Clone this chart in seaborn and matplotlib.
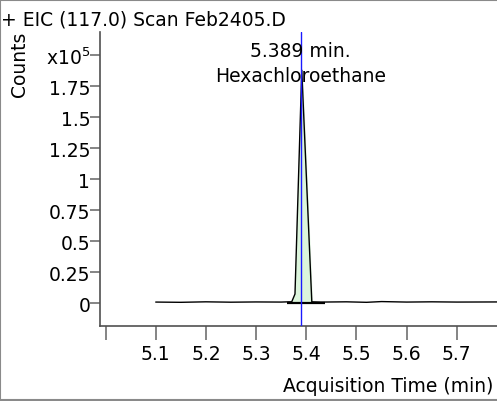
import numpy as np
import pandas as pd
import matplotlib
matplotlib.use("Agg")
import matplotlib.pyplot as plt
from matplotlib.lines import Line2D
import seaborn as sns

# ── data (counts in units of 1e5) ─────────────────────────────────────────────
time_min = [5.10, 5.15, 5.20, 5.25, 5.30, 5.35, 5.365, 5.371, 5.3775, 5.391,
            5.411, 5.43, 5.48, 5.52, 5.55, 5.60, 5.65, 5.70, 5.78]
counts = [0.010, 0.008, 0.012, 0.009, 0.011, 0.010, 0.012, 0.012, 0.075, 1.88,
          0.012, 0.010, 0.012, 0.008, 0.014, 0.010, 0.012, 0.010, 0.011]
peak_start, peak_end = 5.371, 5.411
integ_start, integ_end = 5.361, 5.438
rt = 5.389
compound = "Hexachloroethane"
y_ticks = [0, 0.25, 0.5, 0.75, 1, 1.25, 1.5, 1.75, 2.0]
y_labels = ["0", "0.25", "0.5", "0.75", "1", "1.25", "1.5", "1.75", "x10$^5$"]
x_ticks = [5.0, 5.1, 5.2, 5.3, 5.4, 5.5, 5.6, 5.7]
x_labels = ["", "5.1", "5.2", "5.3", "5.4", "5.5", "5.6", "5.7"]

df = pd.DataFrame({"t": time_min, "c": counts})

sns.set_style("white")
plt.rcParams["font.family"] = ["DejaVu Sans"]
plt.rcParams["text.color"] = "black"
plt.rcParams["xtick.color"] = "black"
plt.rcParams["ytick.color"] = "black"
FS = 13.5

fig = plt.figure(figsize=(4.97, 4.02), dpi=100)
ax = fig.add_axes([100 / 497, 75 / 402, 397 / 497, 294 / 402])

# peak fill
pk = df[(df["t"] >= peak_start) & (df["t"] <= peak_end)]
ax.fill_between(pk["t"], 0.01, pk["c"], color="#dcf5dc", zorder=1)
sns.lineplot(data=df, x="t", y="c", ax=ax, color="black", linewidth=1.0,
             estimator=None, sort=False, zorder=3)
ax.plot([integ_start, integ_end], [0.006, 0.006], color="black", linewidth=1.6,
        solid_capstyle="butt", zorder=4)
ax.axvline(rt, color="#1a1aff", linewidth=1.0, zorder=5)

ax.set_xlim(4.989, 5.780)
ax.set_ylim(-0.183, 2.188)
ax.set_xticks(x_ticks)
ax.set_xticklabels(x_labels)
ax.set_yticks(y_ticks)
ax.set_yticklabels(y_labels)
ax.tick_params(axis="y", direction="out", length=7, width=1.2, color="#707070",
               labelsize=FS, pad=0, left=True)
ax.tick_params(axis="x", direction="out", length=10, width=1.2, color="#707070",
               labelsize=FS, pad=3, bottom=True)
ax.set_xlabel("")
ax.set_ylabel("")
for s in ["top", "right"]:
    ax.spines[s].set_visible(False)
for s in ["left", "bottom"]:
    ax.spines[s].set_color("#505050")
    ax.spines[s].set_linewidth(1.2)

# annotations
ax.text(rt, 2.04, f"{rt:.3f} min.", ha="center", va="center", fontsize=FS,
        zorder=6)
ax.text(rt, 1.84, compound, ha="center", va="center", fontsize=FS, zorder=6)

fig.text(1 / 497, 1 - 20 / 402, "+ EIC (117.0) Scan Feb2405.D", ha="left",
         va="center", fontsize=FS)
fig.text(20 / 497, 1 - 64 / 402, "Counts", rotation=90, ha="center",
         va="center", fontsize=FS)
fig.text(493 / 497, 1 - 387 / 402, "Acquisition Time (min)", ha="right",
         va="center", fontsize=FS)

# figure frame
for xs, ys in [([0, 1], [0.9985, 0.9985]), ([0.001, 0.001], [0, 1]),
               ([0, 1], [0.0035, 0.0035])]:
    fig.add_artist(Line2D(xs, ys, transform=fig.transFigure, color="#8a8a8a",
                          linewidth=1.5))

fig.savefig("out.png", dpi=100)
